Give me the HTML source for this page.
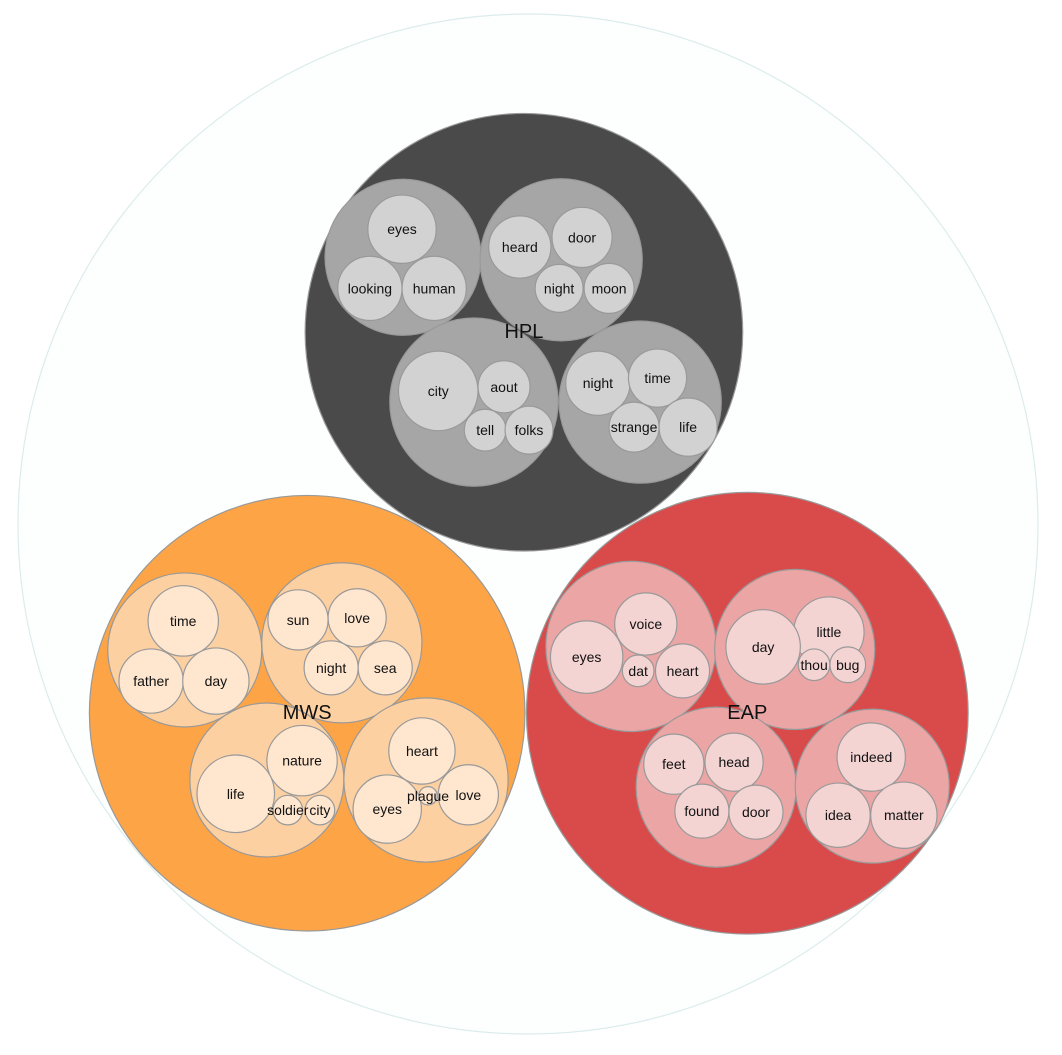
<!DOCTYPE html>
<html><head><meta charset="utf-8">
<style>
html,body{margin:0;padding:0;background:#fff;}
svg text{font-family:"Liberation Sans","DejaVu Sans",sans-serif;text-anchor:middle;dominant-baseline:central;fill:#111;}
</style></head>
<body>
<svg id="chart" width="1062" height="1050" viewBox="0 0 1062 1050"></svg>
<script>
// hierarchy: groups (authors), clusters, leaves. Layout units: outer circle radius = 1000.
const groupNames = ["HPL","MWS","EAP"];
const groupFill = ["#4a4a4a","#fda446","#d94b4b"];
const clusterFill = ["#a6a6a6","#fdd0a2","#eba5a5"];
const leafFill = ["#d2d2d2","#fee6cf","#f4d3d3"];
const groupLayout = [[-8,-376,429],[-433,371,427],[430,371,433]];
const clusterLayout = [
 [[-245,-523,153],[65,-518,159],[-106,-239,165],[220,-239,159]],
 [[-673,247,151],[-365,233,157],[-512,502,151],[-200,502,161]],
 [[202,240,167],[523,246,157],[369,516,157],[675,514,151]]
];
const leafNames = [
 [["eyes","looking","human"],["heard","door","night","moon"],["city","aout","tell","folks"],["night","time","strange","life"]],
 [["time","father","day"],["sun","love","night","sea"],["nature","life","soldier","city"],["heart","eyes","love","plague"]],
 [["voice","eyes","dat","heart"],["little","day","thou","bug"],["feet","head","found","door"],["indeed","idea","matter"]]
];
const leafLayout = [
 [[[-247,-578,67],[-310,-462,63],[-184,-462,63]],
  [[-16,-543,61],[106,-562,59],[61,-462,47],[159,-462,49]],
  [[-176,-261,78],[-47,-269,51],[-84,-184,41],[2,-184,47]],
  [[137,-276,63],[254,-286,57],[208,-190,49],[314,-190,57]]],
 [[[-676,190,69],[-739,308,63],[-612,308,65]],
  [[-451,188,59],[-335,184,57],[-386,282,53],[-280,282,53]],
  [[-443,464,69],[-573,529,76],[-471,561,29],[-408,561,29]],
  [[-208,445,65],[-276,559,67],[-117,531,59],[-196,533,18]]],
 [[[231,196,61],[115,261,71],[216,288,31],[303,288,53]],
  [[590,212,69],[461,241,73],[561,276,31],[627,276,35]],
  [[286,471,59],[404,467,57],[341,563,53],[447,565,53]],
  [[673,457,67],[608,571,63],[737,571,65]]]
];
const CX=528, CY=524, R=510;
const sx=v=>CX+v*R/1000, sy=v=>CY+v*R/1000, sr=v=>v*R/1000;
const svg=document.getElementById('chart'), NS="http://www.w3.org/2000/svg";
function circ(c,fill,stroke,name){
  const e=document.createElementNS(NS,'circle');
  e.setAttribute('cx',sx(c[0]));e.setAttribute('cy',sy(c[1]));e.setAttribute('r',sr(c[2]));
  e.setAttribute('fill',fill);e.setAttribute('stroke',stroke);e.setAttribute('stroke-width','1.2');
  
  
  svg.appendChild(e);
}
function txt(c,s,size,name){
  const t=document.createElementNS(NS,'text');
  t.setAttribute('x',sx(c[0]));t.setAttribute('y',sy(c[1]));t.setAttribute('font-size',size);
  t.textContent=s;
  
  
  svg.appendChild(t);
}
circ([0,0,1000],"#fdfefe","#dcecec","root-circle");
groupNames.forEach((g,gi)=>{
  circ(groupLayout[gi],groupFill[gi],"#999","group-"+g.toLowerCase());
  clusterLayout[gi].forEach((c,ci)=>{
    circ(c,clusterFill[gi],"#999","cluster-"+g.toLowerCase()+"-"+ci);
    leafLayout[gi][ci].forEach((l,li)=>circ(l,leafFill[gi],"#999","leaf-"+leafNames[gi][ci][li]));
  });
});
groupNames.forEach((g,gi)=>{
  leafLayout[gi].forEach((cl,ci)=>cl.forEach((l,li)=>txt(l,leafNames[gi][ci][li],14,"leaf-label-"+leafNames[gi][ci][li])));
  txt(groupLayout[gi],g,20,"group-label-"+g.toLowerCase());
});
</script>
</body></html>
